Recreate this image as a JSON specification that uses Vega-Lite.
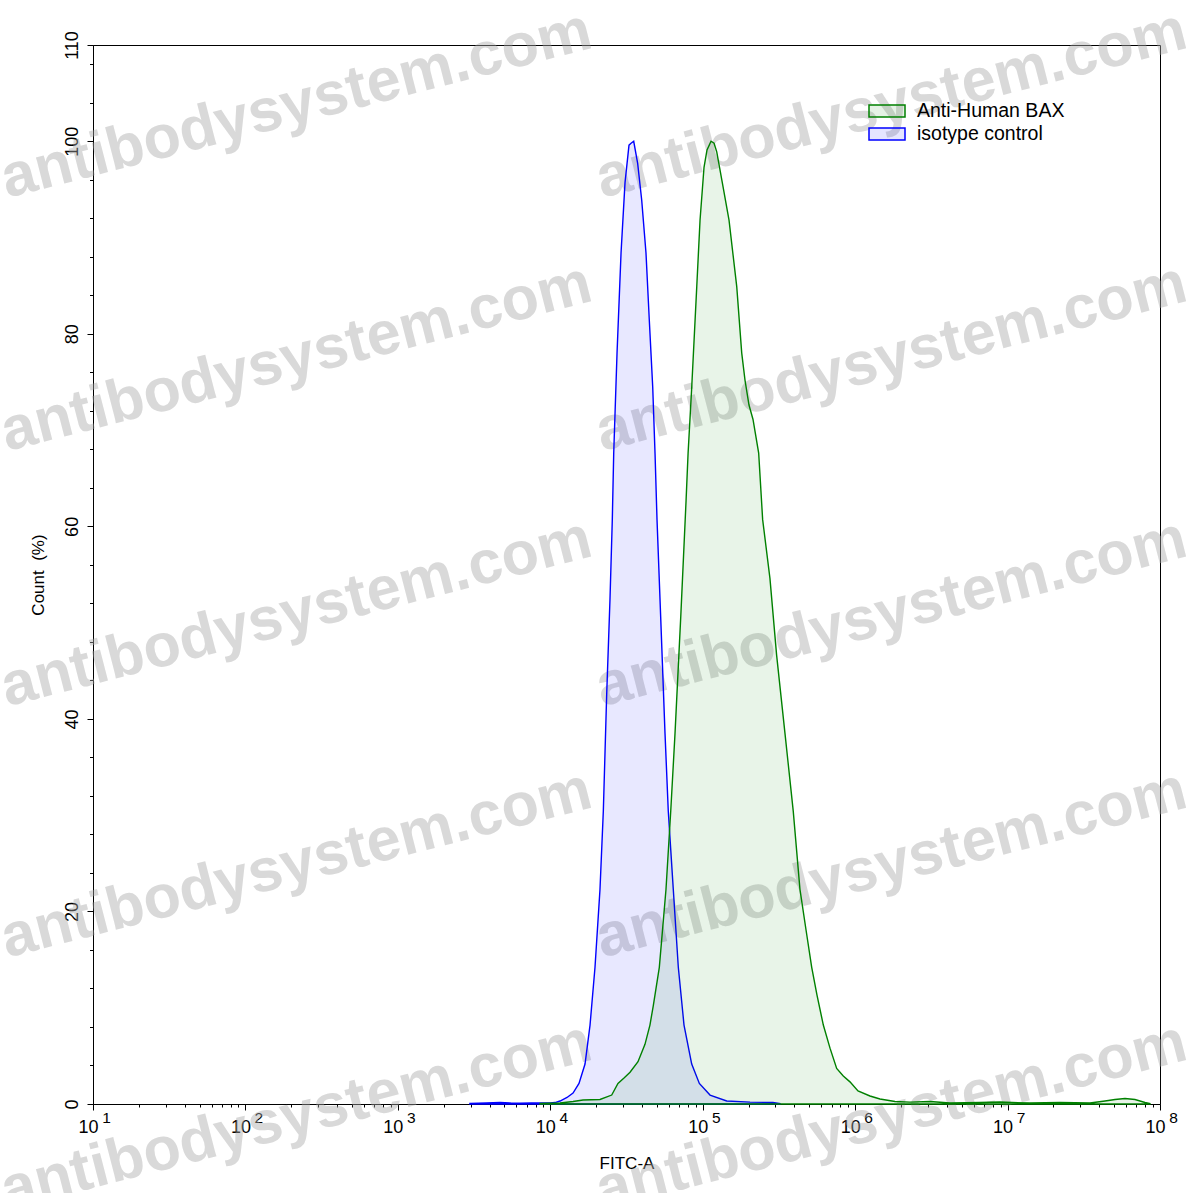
{
  "$schema": "https://vega.github.io/schema/vega-lite/v6.json",
  "width": 1067,
  "height": 1059,
  "autosize": {"type": "none"},
  "padding": {"left": 93, "top": 45, "right": 37, "bottom": 89},
  "background": "white",
  "config": {
    "view": {"stroke": "black", "strokeWidth": 1},
    "font": "Liberation Sans",
    "axis": {"grid": false, "domainColor": "black", "tickColor": "black", "labelColor": "black", "titleColor": "black", "labelFont": "Liberation Sans", "titleFont": "Liberation Sans", "titleFontWeight": "normal", "zindex": 1}
  },
  "datasets": {
    "curves": [
      {"series": "isotype control", "fitc": 2970, "count": 0.05},
      {"series": "isotype control", "fitc": 3800, "count": 0.1},
      {"series": "isotype control", "fitc": 4680, "count": 0.15},
      {"series": "isotype control", "fitc": 5500, "count": 0.1},
      {"series": "isotype control", "fitc": 6320, "count": 0.08},
      {"series": "isotype control", "fitc": 7500, "count": 0.12},
      {"series": "isotype control", "fitc": 8570, "count": 0.1},
      {"series": "isotype control", "fitc": 10000, "count": 0.12},
      {"series": "isotype control", "fitc": 10740, "count": 0.15},
      {"series": "isotype control", "fitc": 11590, "count": 0.31},
      {"series": "isotype control", "fitc": 12880, "count": 0.68},
      {"series": "isotype control", "fitc": 14100, "count": 1.14},
      {"series": "isotype control", "fitc": 15430, "count": 2.13},
      {"series": "isotype control", "fitc": 16900, "count": 4.15},
      {"series": "isotype control", "fitc": 18230, "count": 8.2},
      {"series": "isotype control", "fitc": 19650, "count": 14.2},
      {"series": "isotype control", "fitc": 21190, "count": 22.3},
      {"series": "isotype control", "fitc": 22280, "count": 30.4},
      {"series": "isotype control", "fitc": 23440, "count": 42.5},
      {"series": "isotype control", "fitc": 24640, "count": 52.4},
      {"series": "isotype control", "fitc": 25520, "count": 60.7},
      {"series": "isotype control", "fitc": 26070, "count": 67.6},
      {"series": "isotype control", "fitc": 27410, "count": 78.0},
      {"series": "isotype control", "fitc": 29120, "count": 88.4},
      {"series": "isotype control", "fitc": 30920, "count": 95.7},
      {"series": "isotype control", "fitc": 32840, "count": 99.6},
      {"series": "isotype control", "fitc": 33860, "count": 99.8},
      {"series": "isotype control", "fitc": 35260, "count": 100},
      {"series": "isotype control", "fitc": 37430, "count": 97.7},
      {"series": "isotype control", "fitc": 39780, "count": 93.9},
      {"series": "isotype control", "fitc": 42450, "count": 88.4},
      {"series": "isotype control", "fitc": 44630, "count": 81.4},
      {"series": "isotype control", "fitc": 46980, "count": 74.5},
      {"series": "isotype control", "fitc": 48660, "count": 67.6},
      {"series": "isotype control", "fitc": 50140, "count": 60.7},
      {"series": "isotype control", "fitc": 52990, "count": 50.6},
      {"series": "isotype control", "fitc": 56580, "count": 38.5},
      {"series": "isotype control", "fitc": 59450, "count": 30.4},
      {"series": "isotype control", "fitc": 64110, "count": 22.3},
      {"series": "isotype control", "fitc": 69170, "count": 14.2},
      {"series": "isotype control", "fitc": 75390, "count": 8.2},
      {"series": "isotype control", "fitc": 84680, "count": 4.15},
      {"series": "isotype control", "fitc": 95030, "count": 2.13},
      {"series": "isotype control", "fitc": 111700, "count": 0.93},
      {"series": "isotype control", "fitc": 143700, "count": 0.31},
      {"series": "isotype control", "fitc": 204300, "count": 0.2},
      {"series": "isotype control", "fitc": 289000, "count": 0.15},
      {"series": "isotype control", "fitc": 321300, "count": 0.05},
      {"series": "Anti-Human BAX", "fitc": 8570, "count": 0.05},
      {"series": "Anti-Human BAX", "fitc": 11590, "count": 0.1},
      {"series": "Anti-Human BAX", "fitc": 14100, "count": 0.26},
      {"series": "Anti-Human BAX", "fitc": 16400, "count": 0.42},
      {"series": "Anti-Human BAX", "fitc": 21190, "count": 0.47},
      {"series": "Anti-Human BAX", "fitc": 25290, "count": 0.93},
      {"series": "Anti-Human BAX", "fitc": 27800, "count": 2.13},
      {"series": "Anti-Human BAX", "fitc": 30460, "count": 2.7},
      {"series": "Anti-Human BAX", "fitc": 33360, "count": 3.3},
      {"series": "Anti-Human BAX", "fitc": 37620, "count": 4.4},
      {"series": "Anti-Human BAX", "fitc": 41800, "count": 6.2},
      {"series": "Anti-Human BAX", "fitc": 45060, "count": 8.2},
      {"series": "Anti-Human BAX", "fitc": 47380, "count": 10.2},
      {"series": "Anti-Human BAX", "fitc": 51920, "count": 14.2},
      {"series": "Anti-Human BAX", "fitc": 57430, "count": 22.3},
      {"series": "Anti-Human BAX", "fitc": 61680, "count": 30.4},
      {"series": "Anti-Human BAX", "fitc": 65810, "count": 38.5},
      {"series": "Anti-Human BAX", "fitc": 71760, "count": 50.6},
      {"series": "Anti-Human BAX", "fitc": 77780, "count": 62.7},
      {"series": "Anti-Human BAX", "fitc": 80170, "count": 67.6},
      {"series": "Anti-Human BAX", "fitc": 84740, "count": 74.5},
      {"series": "Anti-Human BAX", "fitc": 91400, "count": 84.9},
      {"series": "Anti-Human BAX", "fitc": 96040, "count": 91.8},
      {"series": "Anti-Human BAX", "fitc": 102000, "count": 97.3},
      {"series": "Anti-Human BAX", "fitc": 106700, "count": 99.1},
      {"series": "Anti-Human BAX", "fitc": 113400, "count": 100},
      {"series": "Anti-Human BAX", "fitc": 118700, "count": 99.8},
      {"series": "Anti-Human BAX", "fitc": 123600, "count": 98.9},
      {"series": "Anti-Human BAX", "fitc": 135900, "count": 95.3},
      {"series": "Anti-Human BAX", "fitc": 148800, "count": 91.8},
      {"series": "Anti-Human BAX", "fitc": 167200, "count": 84.9},
      {"series": "Anti-Human BAX", "fitc": 180300, "count": 78.0},
      {"series": "Anti-Human BAX", "fitc": 189400, "count": 75.2},
      {"series": "Anti-Human BAX", "fitc": 201200, "count": 72.6},
      {"series": "Anti-Human BAX", "fitc": 213800, "count": 71.1},
      {"series": "Anti-Human BAX", "fitc": 232900, "count": 67.6},
      {"series": "Anti-Human BAX", "fitc": 247300, "count": 60.7},
      {"series": "Anti-Human BAX", "fitc": 276100, "count": 54.6},
      {"series": "Anti-Human BAX", "fitc": 305500, "count": 46.6},
      {"series": "Anti-Human BAX", "fitc": 346500, "count": 38.5},
      {"series": "Anti-Human BAX", "fitc": 392700, "count": 30.4},
      {"series": "Anti-Human BAX", "fitc": 434500, "count": 22.3},
      {"series": "Anti-Human BAX", "fitc": 476000, "count": 18.1},
      {"series": "Anti-Human BAX", "fitc": 518900, "count": 14.2},
      {"series": "Anti-Human BAX", "fitc": 562000, "count": 11.3},
      {"series": "Anti-Human BAX", "fitc": 618400, "count": 8.2},
      {"series": "Anti-Human BAX", "fitc": 684100, "count": 5.8},
      {"series": "Anti-Human BAX", "fitc": 756500, "count": 3.7},
      {"series": "Anti-Human BAX", "fitc": 836100, "count": 2.9},
      {"series": "Anti-Human BAX", "fitc": 924800, "count": 2.3},
      {"series": "Anti-Human BAX", "fitc": 1044000, "count": 1.35},
      {"series": "Anti-Human BAX", "fitc": 1251000, "count": 0.83},
      {"series": "Anti-Human BAX", "fitc": 1455000, "count": 0.52},
      {"series": "Anti-Human BAX", "fitc": 1825000, "count": 0.26},
      {"series": "Anti-Human BAX", "fitc": 2290000, "count": 0.2},
      {"series": "Anti-Human BAX", "fitc": 3099000, "count": 0.26},
      {"series": "Anti-Human BAX", "fitc": 4189000, "count": 0.1},
      {"series": "Anti-Human BAX", "fitc": 6592000, "count": 0.16},
      {"series": "Anti-Human BAX", "fitc": 8919000, "count": 0.2},
      {"series": "Anti-Human BAX", "fitc": 14030000, "count": 0.1},
      {"series": "Anti-Human BAX", "fitc": 22080000, "count": 0.16},
      {"series": "Anti-Human BAX", "fitc": 34750000, "count": 0.1},
      {"series": "Anti-Human BAX", "fitc": 43580000, "count": 0.31},
      {"series": "Anti-Human BAX", "fitc": 50700000, "count": 0.47},
      {"series": "Anti-Human BAX", "fitc": 58930000, "count": 0.57},
      {"series": "Anti-Human BAX", "fitc": 68520000, "count": 0.47},
      {"series": "Anti-Human BAX", "fitc": 79730000, "count": 0.16},
      {"series": "Anti-Human BAX", "fitc": 85910000, "count": 0.05}
    ],
    "watermarks": [
      {"label": "antibodysystem.com", "x": 2.73, "y": 94.1},
      {"label": "antibodysystem.com", "x": 2.73, "y": 67.8},
      {"label": "antibodysystem.com", "x": 2.73, "y": 41.3},
      {"label": "antibodysystem.com", "x": 2.73, "y": 15.2},
      {"label": "antibodysystem.com", "x": 2.73, "y": -11.0},
      {"label": "antibodysystem.com", "x": 21830, "y": 94.1},
      {"label": "antibodysystem.com", "x": 21830, "y": 67.8},
      {"label": "antibodysystem.com", "x": 21830, "y": 41.3},
      {"label": "antibodysystem.com", "x": 21830, "y": 15.2},
      {"label": "antibodysystem.com", "x": 21830, "y": -11.0}
    ]
  },
  "resolve": {"axis": {"x": "independent", "y": "independent"}},
  "layer": [
    {
      "data": {"name": "watermarks"},
      "mark": {"type": "text", "align": "left", "baseline": "alphabetic", "angle": -14.4, "fontSize": 61, "fontWeight": "bold", "font": "Liberation Sans", "color": "#a8a8a8", "opacity": 0.43},
      "encoding": {
        "x": {"field": "x", "type": "quantitative", "scale": {"type": "log", "domain": [10, 100000000], "nice": false},
          "axis": {"orient": "bottom", "values": [20,30,40,50,60,70,80,90,200,300,400,500,600,700,800,900,2000,3000,4000,5000,6000,7000,8000,9000,20000,30000,40000,50000,60000,70000,80000,90000,200000,300000,400000,500000,600000,700000,800000,900000,2000000,3000000,4000000,5000000,6000000,7000000,8000000,9000000,20000000,30000000,40000000,50000000,60000000,70000000,80000000,90000000], "labels": false, "domain": false, "tickSize": 3, "title": null}},
        "y": {"field": "y", "type": "quantitative", "scale": {"domain": [0, 110], "nice": false, "zero": false},
          "axis": {"orient": "left", "values": [4,8,12,16,24,28,32,36,44,48,52,56,64,68,72,76,84,88,92,96,104,108], "labels": false, "domain": false, "tickSize": 3.5, "title": null}},
        "text": {"field": "label"}
      }
    },
    {
      "data": {"name": "curves"},
      "mark": {"type": "area", "fillOpacity": 0.09, "strokeWidth": 1.4, "interpolate": "linear"},
      "encoding": {
        "x": {"field": "fitc", "type": "quantitative", "scale": {"type": "log", "domain": [10, 100000000], "nice": false},
          "axis": {"orient": "bottom", "values": [10,100,1000,10000,100000,1000000,10000000,100000000], "labelExpr": "'10'", "labelFontSize": 18, "labelOffset": -5, "labelPadding": 8, "tickSize": 6, "labelFlush": false, "labelOverlap": false, "title": "FITC-A", "titleFontSize": 17, "titlePadding": 19}},
        "y": {"field": "count", "type": "quantitative", "stack": null, "scale": {"domain": [0, 110], "nice": false, "zero": false},
          "axis": {"orient": "left", "values": [0,20,40,60,80,100,110], "labelAngle": -90, "labelFontSize": 18, "labelPadding": 6, "tickSize": 6, "labelFlush": false, "labelOverlap": false, "title": "Count\u00a0 (%)", "titleFontSize": 17, "titlePadding": 16}},
        "fill": {"field": "series", "type": "nominal", "scale": {"domain": ["Anti-Human BAX", "isotype control"], "range": ["#008000", "#0000ff"]},
          "legend": {"title": null, "orient": "none", "legendX": 781, "legendY": 53, "symbolType": "M-1.5,-0.5H1.5V0.5H-1.5Z", "symbolSize": 576, "symbolStrokeWidth": 1.5, "labelFontSize": 19.5, "labelFont": "Liberation Sans", "labelColor": "black", "labelOffset": 17, "rowPadding": 0,
            "encode": {"symbols": {"update": {"fillOpacity": {"value": 0.1}, "opacity": {"value": 1}}}}}},
        "stroke": {"field": "series", "type": "nominal", "scale": {"domain": ["Anti-Human BAX", "isotype control"], "range": ["#008000", "#0000ff"]},
          "legend": {"title": null, "orient": "none", "legendX": 781, "legendY": 53, "symbolType": "M-1.5,-0.5H1.5V0.5H-1.5Z", "symbolSize": 576, "symbolStrokeWidth": 1.5, "labelFontSize": 19.5, "labelFont": "Liberation Sans", "labelColor": "black", "labelOffset": 17, "rowPadding": 0,
            "encode": {"symbols": {"update": {"fillOpacity": {"value": 0.1}, "opacity": {"value": 1}}}}}}
      }
    },
    {
      "data": {"name": "curves"},
      "mark": {"type": "point", "opacity": 0},
      "encoding": {
        "x": {"field": "fitc", "type": "quantitative", "scale": {"type": "log", "domain": [10, 100000000], "nice": false},
          "axis": {"orient": "bottom", "values": [10,100,1000,10000,100000,1000000,10000000,100000000], "labelExpr": "'' + round(log(datum.value) / LN10)", "labelFontSize": 15.5, "labelOffset": 13, "labelPadding": 6, "ticks": false, "tickSize": 0, "domain": false, "labelFlush": false, "labelOverlap": false, "title": null}},
        "y": {"field": "count", "type": "quantitative", "scale": {"domain": [0, 110], "nice": false, "zero": false}, "axis": null}
      }
    }
  ]
}
